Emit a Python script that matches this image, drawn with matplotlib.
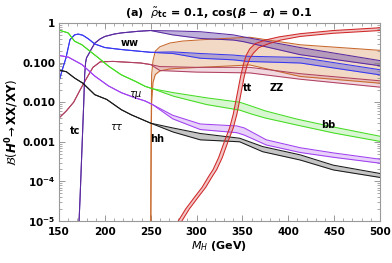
import numpy as np
import matplotlib
matplotlib.use("Agg")
import matplotlib.pyplot as plt
from matplotlib.ticker import FixedLocator, NullFormatter

# ---------------- data (log10 of branching ratio) ----------------
# bb (green)
bb_M  = [150, 160, 167, 175, 182, 193, 204, 218, 233, 244, 252, 275, 311, 347, 360, 375, 410, 450, 500]
bb_hi = [-0.18, -0.25, -0.46, -0.55, -0.68, -0.88, -1.09, -1.31, -1.47, -1.60, -1.66,
         -1.76, -1.89, -2.00, -2.10, -2.22, -2.43, -2.63, -2.86]
bb_lo = [-0.18, -0.25, -0.46, -0.55, -0.68, -0.88, -1.09, -1.31, -1.47, -1.60, -1.66,
         -1.85, -2.06, -2.20, -2.30, -2.40, -2.58, -2.78, -2.99]

# violet
vi_M  = [150, 160, 175, 189, 204, 218, 233, 244, 252, 274, 304, 344, 352, 376, 413, 449, 500]
vi_hi = [-0.82, -0.86, -1.05, -1.34, -1.59, -1.76, -1.89, -1.97, -2.06,
         -2.33, -2.55, -2.60, -2.65, -2.95, -3.15, -3.28, -3.44]
vi_lo = [-0.82, -0.86, -1.05, -1.34, -1.59, -1.76, -1.89, -1.97, -2.06,
         -2.42, -2.69, -2.77, -2.83, -3.08, -3.27, -3.39, -3.54]

# black
bk_M  = [150, 158, 167, 176, 189, 202, 218, 229, 250, 274, 304, 347, 372, 413, 449, 500]
bk_hi = [-1.19, -1.23, -1.39, -1.52, -1.81, -1.93, -2.19, -2.32, -2.53,
         -2.65, -2.79, -2.91, -3.12, -3.33, -3.59, -3.80]
bk_lo = [-1.19, -1.23, -1.39, -1.52, -1.81, -1.93, -2.19, -2.32, -2.53,
         -2.75, -2.95, -3.00, -3.25, -3.46, -3.71, -3.90]

# blue (WW)
ww_M  = [150, 154, 157.5, 162, 167, 171, 176, 182, 189, 200, 218, 236, 250, 274, 304, 340, 355, 413, 500]
ww_hi = [-1.47, -1.15, -0.89, -0.42, -0.30, -0.28, -0.31, -0.40, -0.53, -0.62, -0.67, -0.71, -0.74,
         -0.73, -0.77, -0.81, -0.84, -0.87, -1.18]
ww_lo = [-1.47, -1.15, -0.89, -0.42, -0.30, -0.28, -0.31, -0.40, -0.53, -0.62, -0.67, -0.71, -0.74,
         -0.77, -0.89, -0.93, -0.97, -1.01, -1.31]

# dark purple (tc)
tc_M  = [171.5, 173, 174.5, 176, 177, 178, 179, 180, 182, 185, 189, 195, 200, 210, 218, 236, 250,
         274, 304, 340, 351, 413, 500]
tc_hi = [-5.2, -4.4, -3.5, -2.6, -2.0, -1.3, -1.0, -0.88, -0.80, -0.67, -0.51, -0.40, -0.34, -0.28,
         -0.25, -0.21, -0.19, -0.20, -0.22, -0.30, -0.35, -0.62, -0.95]
tc_lo = [-5.2, -4.4, -3.5, -2.6, -2.0, -1.3, -1.0, -0.88, -0.80, -0.67, -0.51, -0.40, -0.34, -0.28,
         -0.25, -0.21, -0.19, -0.30, -0.39, -0.43, -0.47, -0.80, -1.08]

# orange (hh)
hh_M  = [250.0, 250.5, 251, 252.5, 255, 260, 271, 285, 322, 358, 413, 500]
hh_hi = [-5.5, -2.5, -1.3, -0.95, -0.71, -0.60, -0.505, -0.455, -0.40, -0.36, -0.55, -0.69]
hh_lo = [-5.5, -3.2, -2.0, -1.50, -1.30, -1.21, -1.16, -1.14, -1.10, -1.06, -1.35, -1.52]

# rose (ZZ)
zz_M  = [150, 158, 166, 173, 180, 187, 195, 209, 239, 250, 260, 300, 358, 413, 500]
zz_hi = [-2.40, -2.22, -2.00, -1.69, -1.40, -1.12, -0.98, -0.97, -1.01, -1.05,
         -1.10, -1.12, -1.12, -1.28, -1.46]
zz_lo = [-2.40, -2.22, -2.00, -1.69, -1.40, -1.12, -0.98, -0.97, -1.01, -1.05,
         -1.20, -1.24, -1.26, -1.42, -1.62]

# red (tt) band edges
tt_hi_M = [280, 288, 298, 306, 313, 318, 324, 331, 336, 340, 343, 345.5, 348, 351, 354, 358, 364, 375, 390, 413, 449, 500]
tt_hi   = [-5.0, -4.7, -4.39, -4.15, -3.88, -3.7, -3.40, -2.95, -2.65, -2.3, -1.95, -1.65, -1.35,
           -1.05, -0.82, -0.65, -0.52, -0.43, -0.35, -0.27, -0.19, -0.12]
tt_lo_M = [284, 292, 302, 310, 317, 322, 328, 335, 340, 344, 347, 349.5, 352, 355, 358, 362, 368, 379, 392, 413, 449, 500]
tt_lo   = [-5.0, -4.7, -4.39, -4.15, -3.88, -3.7, -3.40, -2.95, -2.65, -2.3, -1.95, -1.65, -1.35,
           -1.08, -0.90, -0.76, -0.62, -0.52, -0.43, -0.34, -0.26, -0.19]

# labels (text, M, BR)
labels = [("ww", 227, 10**-0.51), (r"$\tau\mu$", 234, 10**-1.81), ("tc", 167, 10**-2.73),
          (r"$\tau\tau$", 213, 10**-2.63), ("hh", 257, 10**-2.94), ("tt", 356, 10**-1.64),
          ("ZZ", 387, 10**-1.63), ("bb", 444, 10**-2.58)]

yticks = [1e-5, 1e-4, 1e-3, 1e-2, 1e-1, 1]
yticklabels = [r"$\mathbf{10^{-5}}$", r"$\mathbf{10^{-4}}$", "0.001", "0.010", "0.100", "1"]
xticks = [150, 200, 250, 300, 350, 400, 450, 500]

# ---------------- plot ----------------
fig = plt.figure(figsize=(3.92, 2.63), dpi=100)
ax = fig.add_axes([59/392, 42/263, 321/392, 198/263])
ax.set_xlim(150, 500)
ax.set_ylim(1e-5, 1)
ax.set_yscale("log")

LW = 0.75

def band(M, lo, hi, line, fill, falpha):
    M = np.asarray(M)
    lo = np.power(10.0, lo); hi = np.power(10.0, hi)
    ax.fill_between(M, lo, hi, color=fill, alpha=falpha, lw=0)
    ax.plot(M, hi, color=line, lw=LW)
    ax.plot(M, lo, color=line, lw=LW)

band(hh_M, hh_lo, hh_hi, "#c8682c", "#e0a070", 0.4)
band(zz_M, zz_lo, zz_hi, "#b04060", "#d890a8", 0.35)
band(tc_M, tc_lo, tc_hi, "#5a2aa0", "#7050b0", 0.45)
band(ww_M, ww_lo, ww_hi, "#3838f0", "#5050e0", 0.4)
band(bb_M, bb_lo, bb_hi, "#44dc22", "#90e880", 0.35)
band(vi_M, vi_lo, vi_hi, "#a040f0", "#c080f0", 0.35)
band(bk_M, bk_lo, bk_hi, "#1a1a1a", "#808080", 0.45)

poly_x = np.concatenate([tt_hi_M, tt_lo_M[::-1]])
poly_y = np.power(10.0, np.concatenate([tt_hi, tt_lo[::-1]]))
ax.fill(poly_x, poly_y, color="#e07070", alpha=0.4, lw=0)
ax.plot(tt_hi_M, np.power(10.0, tt_hi), color="#d02828", lw=LW)
ax.plot(tt_lo_M, np.power(10.0, tt_lo), color="#d02828", lw=LW)

for t, x, y in labels:
    ax.text(x, y, t, fontsize=7, fontweight="bold", ha="center", va="center")

ax.xaxis.set_major_locator(FixedLocator(xticks))
ax.xaxis.set_minor_locator(FixedLocator(np.arange(150, 501, 10)))
ax.set_yticks(yticks)
ax.set_yticklabels(yticklabels)
ax.yaxis.set_minor_formatter(NullFormatter())
ax.tick_params(which="both", direction="in", top=True, right=True, color="#888888")
ax.tick_params(which="major", length=4, width=0.6, labelsize=7.5)
ax.tick_params(axis="x", which="major", pad=4.5)
ax.tick_params(axis="y", which="major", pad=2.5)
ax.tick_params(which="minor", length=2, width=0.5)
for lab in ax.get_xticklabels() + ax.get_yticklabels():
    lab.set_fontweight("bold")
ax.get_yticklabels()[0].set_va("center_baseline")
for s in ax.spines.values():
    s.set_color("#999999")
    s.set_linewidth(0.8)

ax.set_xlabel(r"$\boldsymbol{M_H}$ (GeV)", fontsize=8, fontweight="bold", labelpad=1)
ax.set_ylabel(r"$\mathcal{B}(\boldsymbol{H}^{\mathbf{0}}\!\rightarrow\mathbf{XX/XY})$", fontsize=8.5, labelpad=1)
fig.text(219/392, 1 - 13/263, r"(a)  $\boldsymbol{\tilde{\rho}}_{\mathbf{tc}}$ = 0.1, cos($\boldsymbol{\beta}$ $-$ $\boldsymbol{\alpha}$) = 0.1",
         fontsize=8, fontweight="bold", ha="center", va="center")

fig.savefig("out.png", dpi=100)
